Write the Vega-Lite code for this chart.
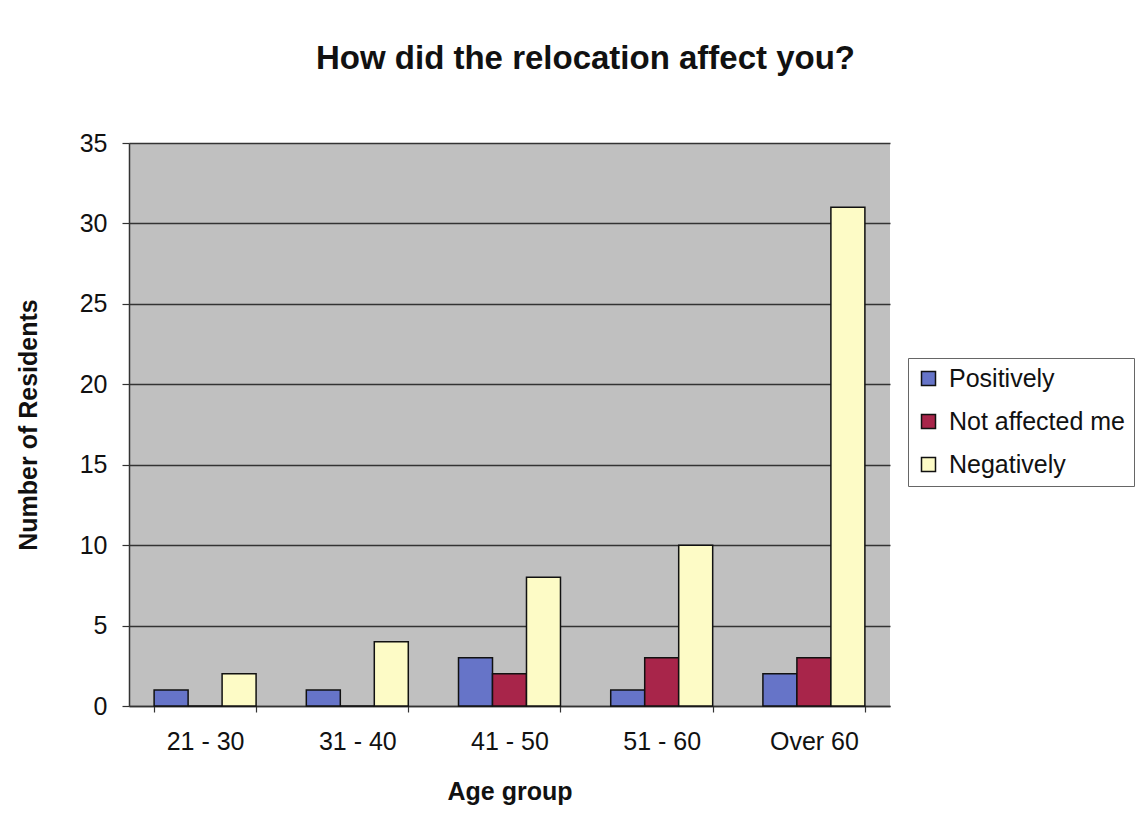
{
  "$schema": "https://vega.github.io/schema/vega-lite/v6.json",
  "width": 761,
  "height": 563,
  "autosize": {"type": "none"},
  "padding": {"left": 129, "top": 143, "right": 258, "bottom": 124},
  "background": "white",
  "title": {
    "text": "How did the relocation affect you?",
    "font": "Liberation Sans",
    "fontSize": 33,
    "fontWeight": "bold",
    "color": "#111111",
    "anchor": "middle",
    "dx": 76,
    "offset": 55
  },
  "data": {
    "values": [
      {"age": "21 - 30", "effect": "Positively", "residents": 1},
      {"age": "21 - 30", "effect": "Not affected me", "residents": 0},
      {"age": "21 - 30", "effect": "Negatively", "residents": 2},
      {"age": "31 - 40", "effect": "Positively", "residents": 1},
      {"age": "31 - 40", "effect": "Not affected me", "residents": 0},
      {"age": "31 - 40", "effect": "Negatively", "residents": 4},
      {"age": "41 - 50", "effect": "Positively", "residents": 3},
      {"age": "41 - 50", "effect": "Not affected me", "residents": 2},
      {"age": "41 - 50", "effect": "Negatively", "residents": 8},
      {"age": "51 - 60", "effect": "Positively", "residents": 1},
      {"age": "51 - 60", "effect": "Not affected me", "residents": 3},
      {"age": "51 - 60", "effect": "Negatively", "residents": 10},
      {"age": "Over 60", "effect": "Positively", "residents": 2},
      {"age": "Over 60", "effect": "Not affected me", "residents": 3},
      {"age": "Over 60", "effect": "Negatively", "residents": 31}
    ]
  },
  "mark": {"type": "bar", "stroke": "#111111", "strokeWidth": 1.5},
  "encoding": {
    "x": {
      "field": "age",
      "type": "nominal",
      "sort": ["21 - 30", "31 - 40", "41 - 50", "51 - 60", "Over 60"],
      "scale": {"paddingInner": 0.33, "paddingOuter": 0.165},
      "axis": {
        "title": "Age group",
        "labelAngle": 0,
        "tickBand": "extent",
        "tickSize": 6,
        "labelPadding": 17,
        "titlePadding": 25
      }
    },
    "xOffset": {
      "field": "effect",
      "type": "nominal",
      "sort": ["Positively", "Not affected me", "Negatively"],
      "scale": {"paddingInner": 0, "paddingOuter": 0}
    },
    "y": {
      "field": "residents",
      "type": "quantitative",
      "scale": {"domain": [0, 35]},
      "axis": {
        "title": "Number of Residents",
        "values": [0, 5, 10, 15, 20, 25, 30, 35],
        "grid": true,
        "tickSize": 7,
        "labelPadding": 15,
        "titlePadding": 38
      }
    },
    "color": {
      "field": "effect",
      "type": "nominal",
      "sort": ["Positively", "Not affected me", "Negatively"],
      "scale": {
        "domain": ["Positively", "Not affected me", "Negatively"],
        "range": ["#6674c8", "#a8254a", "#fdfbc6"]
      },
      "legend": {
        "title": null,
        "orient": "none",
        "legendX": 779,
        "legendY": 215,
        "symbolType": "square",
        "symbolSize": 196,
        "symbolStrokeColor": "#111111",
        "symbolStrokeWidth": 1.5,
        "labelFont": "Liberation Sans",
        "labelFontSize": 25,
        "labelColor": "#111111",
        "labelLimit": 400,
        "labelOffset": 8,
        "rowPadding": 17,
        "fillColor": "white",
        "strokeColor": "#666666",
        "padding": 8
      }
    }
  },
  "config": {
    "view": {"fill": "#c0c0c0", "stroke": null},
    "axis": {
      "labelFont": "Liberation Sans",
      "labelFontSize": 25,
      "labelColor": "#111111",
      "titleFont": "Liberation Sans",
      "titleFontSize": 25,
      "titleFontWeight": "bold",
      "titleColor": "#111111",
      "domainColor": "#333333",
      "domainWidth": 1.5,
      "tickColor": "#333333",
      "tickWidth": 1.2,
      "gridColor": "#333333",
      "gridWidth": 1.4
    }
  }
}
